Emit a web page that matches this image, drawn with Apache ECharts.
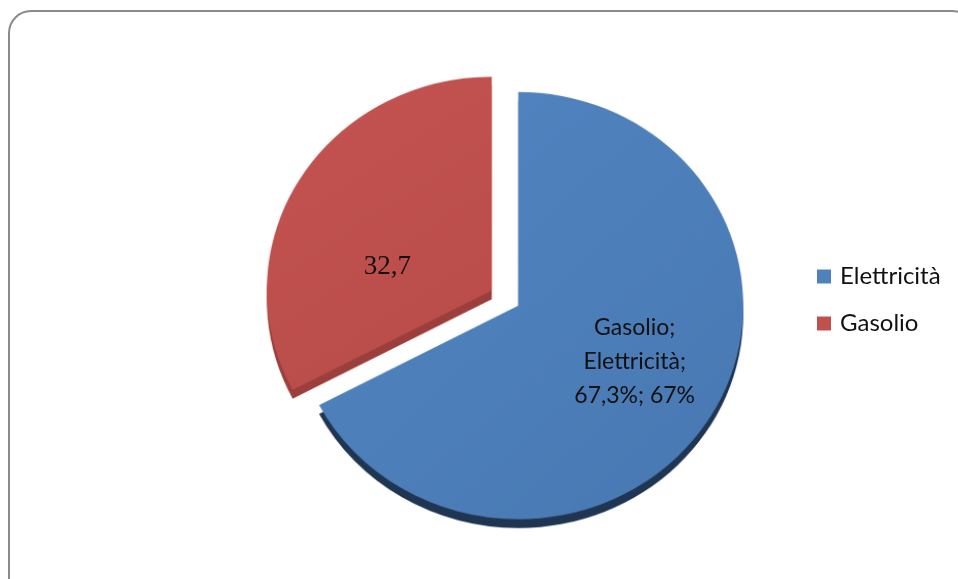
<!DOCTYPE html>
<html>
<head>
<meta charset="utf-8">
<script src="https://cdn.jsdelivr.net/npm/echarts@6/dist/echarts.min.js"></script>
<style>
html,body{margin:0;padding:0;background:#fff;}
#wrap{position:relative;width:958px;height:579px;overflow:hidden;}
#pie,#over{position:absolute;left:0;top:0;width:958px;height:579px;}
#pie{transform-origin:505px 298px;transform:scale(1.032,0.98);}
</style>
</head>
<body>
<div id="wrap"><div id="pie"></div><div id="over"></div></div>
<script>
var categories = ['Elettricità', 'Gasolio'];
var values = [67.3, 32.7];
var labelTexts = ['Gasolio;\nElettricità;\n67,3%; 67%', '32,7'];

var faceColors = [
  new echarts.graphic.LinearGradient(0, 0, 1, 1, [{offset: 0, color: '#5286C2'}, {offset: 1, color: '#4878B2'}]),
  new echarts.graphic.LinearGradient(0, 0, 1, 1, [{offset: 0, color: '#C45451'}, {offset: 1, color: '#B84B48'}])
];
var depthColors = ['#1F3552', '#9B3F3C'];
var legendColors = ['#4F81BD', '#C0504D'];

var CX = 505, CY = 298, R = 218, OFF = 15;

var faceData = categories.map(function (c, i) {
  return {name: c, value: values[i], selected: true, itemStyle: {color: faceColors[i]}};
});
var depthData = categories.map(function (c, i) {
  return {name: c, value: values[i], selected: true, itemStyle: {color: depthColors[i]}};
});
var labelData = categories.map(function (c, i) {
  return {
    name: c, value: values[i], selected: true,
    itemStyle: {color: 'rgba(0,0,0,0)'},
    label: {
      formatter: labelTexts[i],
      fontFamily: i === 1 ? 'Liberation Serif' : 'Lato',
      fontSize: i === 1 ? 27 : 23,
      lineHeight: 34,
      color: '#111'
    }
  };
});

var pieChart = echarts.init(document.getElementById('pie'));
pieChart.setOption({
  animation: false,
  series: [
    {
      type: 'pie', name: 'depth', z: 1,
      center: [CX, CY + 9], radius: [0, R],
      startAngle: 90, clockwise: true,
      selectedMode: 'multiple', selectedOffset: OFF,
      silent: true, label: {show: false}, labelLine: {show: false},
      emphasis: {disabled: true},
      data: depthData
    },
    {
      type: 'pie', name: 'face', z: 2,
      center: [CX, CY], radius: [0, R],
      startAngle: 90, clockwise: true,
      selectedMode: 'multiple', selectedOffset: OFF,
      silent: true, label: {show: false}, labelLine: {show: false},
      emphasis: {disabled: true},
      data: faceData
    }
  ]
});

var labelShift = [[21, -2], [-9, 35]];

var over = echarts.init(document.getElementById('over'));
over.setOption({
  animation: false,
  graphic: [{
    type: 'rect', z: 0,
    shape: {x: 9, y: 11, width: 965, height: 592, r: 22},
    style: {fill: 'none', stroke: '#8a8a8a', lineWidth: 2}
  }],
  legend: {
    orient: 'vertical',
    left: 812, top: 259,
    itemWidth: 14, itemHeight: 14, itemGap: 22,
    icon: 'rect',
    selectedMode: false,
    data: categories.map(function (c, i) { return {name: c, itemStyle: {color: legendColors[i]}}; }),
    textStyle: {fontFamily: 'Lato', fontSize: 24, color: '#111', lineHeight: 25, padding: [0, 0, 0, 4]}
  },
  series: [
    {
      type: 'pie', name: 'labels',
      center: [CX, CY], radius: [0, R],
      startAngle: 90, clockwise: true,
      selectedMode: 'multiple', selectedOffset: OFF,
      silent: true,
      label: {show: true, position: 'inside', align: 'center'},
      labelLine: {show: false},
      emphasis: {disabled: true},
      labelLayout: function (p) {
        var s = labelShift[p.dataIndex];
        return {dx: s[0], dy: s[1]};
      },
      data: labelData
    }
  ]
});
</script>
</body>
</html>
